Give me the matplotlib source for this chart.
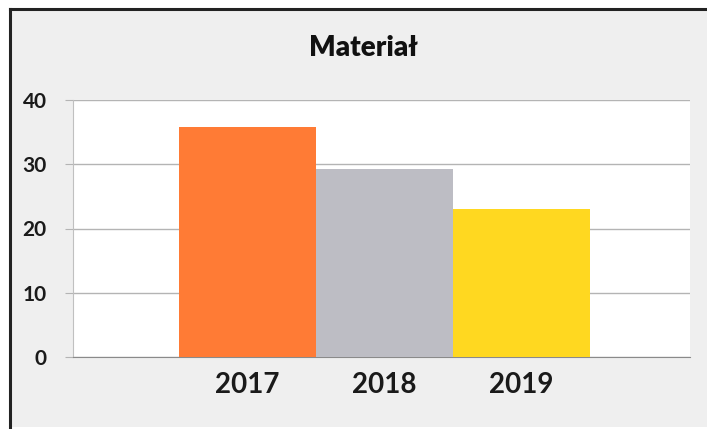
import matplotlib.pyplot as plt
from matplotlib.patches import Rectangle

years = ['2017', '2018', '2019']
values = [35.8, 29.3, 23.0]
colors = ['#FF7B35', '#BDBDC4', '#FFD820']

fig = plt.figure(figsize=(7.07, 4.29), dpi=100)
fig.patch.set_facecolor('white')

# tło ramki wykresu (pod osiami)
fig.add_artist(Rectangle((10 / 707, 0.005), 1.0, 1 - 9 / 429 - 0.005,
                         transform=fig.transFigure, facecolor='#EFEFEF',
                         edgecolor='none', zorder=-5))
fig.add_artist(plt.Line2D([10 / 707, 1], [1 - 9 / 429] * 2, color='#222222', lw=2.2, zorder=-4))
fig.add_artist(plt.Line2D([10 / 707] * 2, [0.005, 1 - 9 / 429], color='#222222', lw=2.2, zorder=-4))

ax = fig.add_axes([73 / 707, 1 - 357 / 429, 617 / 707, 257 / 429])
ax.set_facecolor('white')

x = range(len(years))
ax.bar(x, values, width=1.0, color=colors, zorder=3)

ax.set_ylim(0, 40)
ax.set_xlim(-1.27, 3.23)
ax.set_yticks([0, 10, 20, 30, 40])
ax.set_xticks(list(x))
ax.set_xticklabels(years)

ax.grid(axis='y', color='#B4B4B4', lw=1, zorder=0)
for s in ['top', 'right']:
    ax.spines[s].set_visible(False)
ax.spines['left'].set_color('#C0C0C0')
ax.spines['bottom'].set_color('#8A8A8A')
ax.tick_params(axis='y', length=6, color='#B4B4B4', pad=13)
ax.tick_params(axis='x', length=0, pad=11)

for lab in ax.get_yticklabels():
    lab.set_fontfamily('Lato')
    lab.set_fontweight('bold')
    lab.set_fontsize(15)
    lab.set_color('#1A1A1A')
for lab in ax.get_xticklabels():
    lab.set_fontfamily('Lato')
    lab.set_fontweight('bold')
    lab.set_fontsize(20)
    lab.set_color('#1A1A1A')

fig.text(363 / 707, 1 - 48 / 429, 'Materiał', ha='center', va='center',
         fontsize=20, fontweight='heavy', family='Lato', color='#111111')

fig.savefig('out.png', dpi=100, facecolor=fig.get_facecolor())
